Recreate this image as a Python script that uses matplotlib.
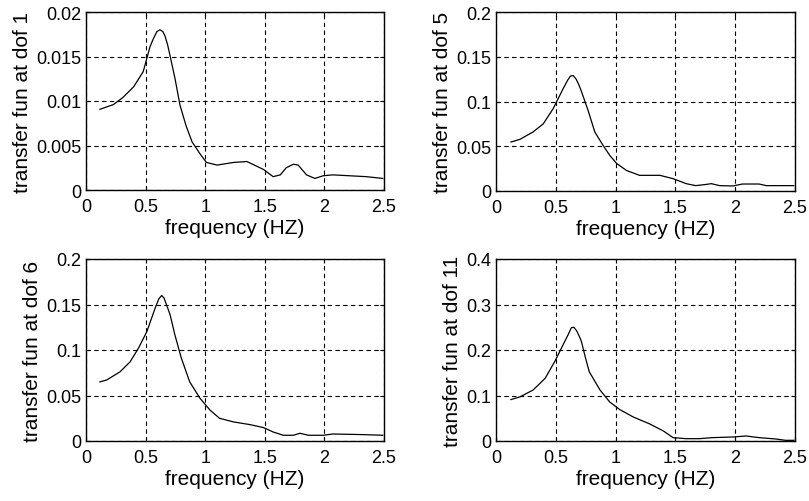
import numpy as np
import matplotlib
matplotlib.use('Agg')
import matplotlib.pyplot as plt

plt.rcParams['font.family'] = ['Liberation Sans', 'DejaVu Sans']

# dof 1
f1 = [0.117, 0.23, 0.31, 0.40, 0.48, 0.537, 0.565, 0.595, 0.62, 0.645, 0.663, 0.685, 0.705, 0.747,
      0.789, 0.84, 0.89, 0.96, 1.01, 1.10, 1.24, 1.35, 1.49, 1.57, 1.63, 1.68, 1.74, 1.78, 1.85,
      1.92, 1.99, 2.07, 2.21, 2.35, 2.49]
h1 = [0.00907, 0.0096, 0.0104, 0.0116, 0.0133, 0.0161, 0.0170, 0.0178, 0.0180, 0.0178, 0.0173,
      0.0163, 0.0151, 0.0125, 0.0095, 0.0072, 0.0054, 0.0040, 0.0031, 0.0028, 0.0031, 0.0032,
      0.0023, 0.0015, 0.0017, 0.0025, 0.0029, 0.0028, 0.0017, 0.0013, 0.0016, 0.0017, 0.0016,
      0.0015, 0.0013]

# dof 5
f5 = [0.125, 0.20, 0.31, 0.395, 0.478, 0.56, 0.60, 0.623, 0.645, 0.67, 0.695, 0.715, 0.77, 0.826,
      0.895, 0.95, 1.007, 1.09, 1.20, 1.37, 1.48, 1.59, 1.67, 1.76, 1.80, 1.87, 1.98, 2.06, 2.20,
      2.26, 2.49]
h5 = [0.0547, 0.0577, 0.066, 0.075, 0.092, 0.114, 0.124, 0.1285, 0.129, 0.125, 0.118, 0.111, 0.090,
      0.066, 0.051, 0.040, 0.031, 0.023, 0.0175, 0.0175, 0.0138, 0.0082, 0.006, 0.0074, 0.0082,
      0.006, 0.0056, 0.0078, 0.0078, 0.006, 0.006]

# dof 6
f6 = [0.117, 0.173, 0.285, 0.37, 0.44, 0.51, 0.58, 0.61, 0.635, 0.655, 0.68, 0.705, 0.746, 0.80,
      0.87, 0.956, 1.04, 1.12, 1.236, 1.376, 1.49, 1.57, 1.655, 1.74, 1.795, 1.865, 1.99, 2.07,
      2.33, 2.49]
h6 = [0.065, 0.067, 0.076, 0.087, 0.102, 0.120, 0.146, 0.156, 0.160, 0.157, 0.148, 0.139, 0.1165,
      0.091, 0.065, 0.047, 0.034, 0.025, 0.021, 0.018, 0.0147, 0.0099, 0.0063, 0.0063, 0.0085,
      0.0063, 0.0063, 0.0077, 0.007, 0.0063]

# dof 11
f11 = [0.125, 0.20, 0.31, 0.41, 0.49, 0.56, 0.60, 0.63, 0.65, 0.675, 0.70, 0.715, 0.745, 0.78,
       0.87, 0.95, 1.035, 1.146, 1.285, 1.40, 1.48, 1.59, 1.70, 1.81, 1.98, 2.09, 2.20, 2.34,
       2.42, 2.49]
h11 = [0.091, 0.097, 0.112, 0.1375, 0.174, 0.211, 0.232, 0.249, 0.250, 0.242, 0.228, 0.218, 0.186,
       0.152, 0.112, 0.086, 0.069, 0.053, 0.0375, 0.022, 0.0074, 0.0051, 0.0051, 0.0074, 0.0088,
       0.011, 0.0074, 0.0044, 0.0015, 0.0015]

xticks = [0, 0.5, 1, 1.5, 2, 2.5]
xticklabels = ['0', '0.5', '1', '1.5', '2', '2.5']

panels = [
    (f1, h1, 'transfer fun at dof 1', [0, 0.005, 0.01, 0.015, 0.02], ['0', '0.005', '0.01', '0.015', '0.02'],
     [86/809, 1-191/502, 298/809, 178/502]),
    (f5, h5, 'transfer fun at dof 5', [0, 0.05, 0.1, 0.15, 0.2], ['0', '0.05', '0.1', '0.15', '0.2'],
     [496/809, 1-192/502, 299/809, 179/502]),
    (f6, h6, 'transfer fun at dof 6', [0, 0.05, 0.1, 0.15, 0.2], ['0', '0.05', '0.1', '0.15', '0.2'],
     [86/809, 1-442/502, 298/809, 182/502]),
    (f11, h11, 'transfer fun at dof 11', [0, 0.1, 0.2, 0.3, 0.4], ['0', '0.1', '0.2', '0.3', '0.4'],
     [496/809, 1-442/502, 299/809, 182/502]),
]

fig = plt.figure(figsize=(8.09, 5.02), dpi=100)
for f, h, lab, yt, ytl, pos in panels:
    ax = fig.add_axes(pos)
    ax.plot(f, h, color='black', linewidth=0.9)
    ax.set_xlim(0, 2.5)
    ax.set_ylim(yt[0], yt[-1])
    ax.set_xticks(xticks)
    ax.set_xticklabels(xticklabels)
    ax.set_yticks(yt)
    ax.set_yticklabels(ytl)
    ax.grid(True, color='black', linestyle=(0, (4, 3)), linewidth=0.8)
    ax.tick_params(direction='in', top=True, right=True, labelsize=13, length=3)
    ax.tick_params(axis='x', pad=6)
    ax.set_xlabel('frequency (HZ)', fontsize=15, labelpad=2)
    ax.set_ylabel(lab, fontsize=15, labelpad=3)
    for s in ax.spines.values():
        s.set_linewidth(1.0)

plt.savefig('out.png', dpi=100)
